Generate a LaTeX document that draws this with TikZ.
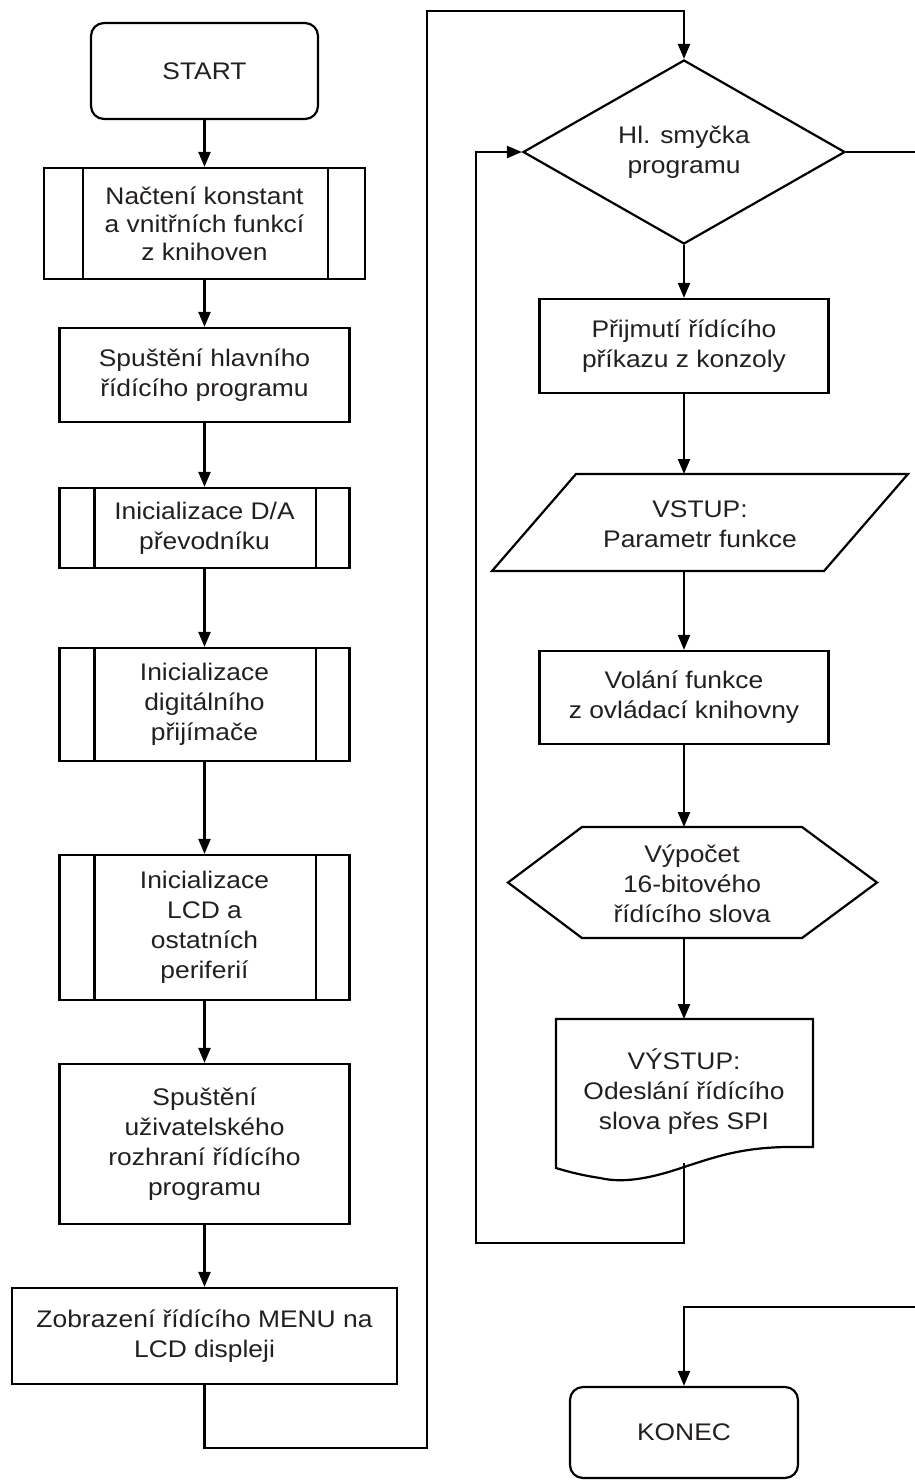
\documentclass[tikz,border=0pt]{standalone}
\usepackage{fontspec}
\setmainfont{Liberation Sans}[FakeStretch=1.1]
\usetikzlibrary{arrows.meta,shapes.geometric}
\definecolor{txt}{HTML}{231F20}
\newcommand\fsz{\fontsize{24}{30}\selectfont}
\newcommand\fszb{\fontsize{24}{28}\selectfont}
\tikzset{
  conn/.style={line width=2.2pt},
  arr/.style={-{Triangle[length=15pt,width=12pt]}},
  stepbox/.style={draw, line width=2.2pt, inner sep=0pt, align=center, font=\fsz, text=txt},
  termbox/.style={stepbox, rounded corners=13pt},
  lbl/.style={inner sep=0pt, align=center, font=\fsz, text=txt},
  decis/.style={stepbox, diamond, minimum width=322pt, minimum height=160pt}
}
\begin{document}
\begin{tikzpicture}[x=1pt,y=-1pt]
\useasboundingbox (0,0) rectangle (915,1481);
% left column
\node[termbox, minimum width=227pt, minimum height=96pt] (S) at (204.5,71) {START};
\node[stepbox, font=\fszb, minimum width=321pt, minimum height=111pt] (b1) at (204.5,223.5) {Načtení konstant\\a vnitřních funkcí\\z knihoven};
\node[stepbox, minimum width=290pt, minimum height=94pt] (b2) at (204.5,375) {Spuštění hlavního\\řídícího programu};
\node[stepbox, minimum width=290pt, minimum height=80pt] (b3) at (204.5,528) {Inicializace D/A\\převodníku};
\node[stepbox, minimum width=290pt, minimum height=113pt] (b4) at (204.5,704.5) {Inicializace\\digitálního\\přijímače};
\node[stepbox, minimum width=290pt, minimum height=145pt] (b5) at (204.5,927.5) {Inicializace\\LCD a\\ostatních\\periferií};
\node[stepbox, minimum width=290pt, minimum height=160pt] (b6) at (204.5,1144) {Spuštění\\uživatelského\\rozhraní řídícího\\programu};
\node[stepbox, minimum width=385pt, minimum height=96pt] (b7) at (204.5,1336) {Zobrazení řídícího MENU na\\LCD displeji};
% predefined-process side bars
\draw[conn] ([xshift=40pt]b1.north west) -- ([xshift=40pt]b1.south west);
\draw[conn] ([xshift=-38pt]b1.north east) -- ([xshift=-38pt]b1.south east);
\foreach \b in {b3,b4,b5}{
  \draw[conn] ([xshift=36pt]\b.north west) -- ([xshift=36pt]\b.south west);
  \draw[conn] ([xshift=-35pt]\b.north east) -- ([xshift=-35pt]\b.south east);
}
% left arrows
\draw[conn,arr] (S) -- (b1);
\draw[conn,arr] (b1) -- (b2);
\draw[conn,arr] (b2) -- (b3);
\draw[conn,arr] (b3) -- (b4);
\draw[conn,arr] (b4) -- (b5);
\draw[conn,arr] (b5) -- (b6);
\draw[conn,arr] (b6) -- (b7);
% right column
\node[decis] (D) at (684,152) {Hl. smyčka\\programu};
\node[stepbox, minimum width=289pt, minimum height=94pt] (r1) at (684,346) {Přijmutí řídícího\\příkazu z konzoly};
% parallelogram (input)
\draw[conn] (576,474) -- (908,474) -- (824,571) -- (492,571) -- cycle;
\node[lbl] (P) at (700,524) {VSTUP:\\Parametr funkce};
\coordinate (Ptop) at (684,474);
\coordinate (Pbot) at (684,571);
\node[stepbox, minimum width=289pt, minimum height=93pt] (r2) at (684,697.5) {Volání funkce\\z ovládací knihovny};
% hexagon (preparation)
\draw[conn] (508,882.5) -- (582,827) -- (802,827) -- (877,882.5) -- (802,938) -- (582,938) -- cycle;
\node[lbl] (H) at (692,884) {Výpočet\\16-bitového\\řídícího slova};
\coordinate (Htop) at (684,827);
\coordinate (Hbot) at (684,938);
% document (output)
\draw[conn] (556,1019) -- (813,1019) -- (813,1147) -- (785,1147)
  .. controls (740,1148) and (715,1157) .. (684,1167)
  .. controls (655,1177) and (625,1184) .. (600,1178)
  .. controls (580,1175) and (566,1171) .. (556,1168) -- cycle;
\node[lbl] (V) at (684,1092) {VÝSTUP:\\Odeslání řídícího\\slova přes SPI};
\coordinate (Vtop) at (684,1019);
\coordinate (Vbot) at (684,1163);
% right arrows
\draw[conn,arr] (D) -- (r1);
\draw[conn,arr] (r1) -- (Ptop);
\draw[conn,arr] (Pbot) -- (r2);
\draw[conn,arr] (r2) -- (Htop);
\draw[conn,arr] (Hbot) -- (Vtop);
% loop back
\coordinate (c3) at (476,1243);
\draw[conn,arr] (Vbot) |- (c3) |- (D.west);
% from left column to loop start
\coordinate (c1) at (427,1448);
\coordinate (c2) at (427,11);
\draw[conn,arr] (b7.south) |- (c1) -- (c2) -| (D.north);
% exit to end
\node[termbox, minimum width=228pt, minimum height=91pt] (K) at (684,1432.5) {KONEC};
\coordinate (e1) at (915,152);
\coordinate (e2) at (915,1307);
\draw[conn] (D.east) -- (e1);
\draw[conn,arr] (e2) -| (K.north);
\end{tikzpicture}
\end{document}
